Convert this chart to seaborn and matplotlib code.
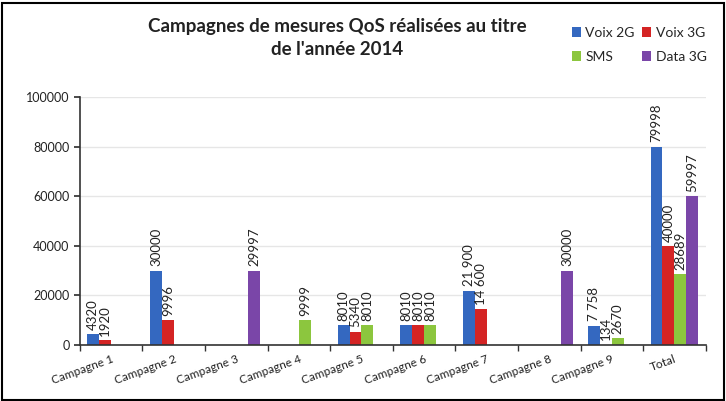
import matplotlib
matplotlib.use("Agg")
import matplotlib.pyplot as plt
import seaborn as sns
import pandas as pd
import numpy as np
from matplotlib.ticker import FixedLocator
from matplotlib.patches import Patch

categories = ["Campagne 1", "Campagne 2", "Campagne 3", "Campagne 4", "Campagne 5",
              "Campagne 6", "Campagne 7", "Campagne 8", "Campagne 9", "Total"]
series = ["Voix 2G", "Voix 3G", "SMS", "Data 3G"]
voix2g = [4320, 30000, 0, 0, 8010, 8010, 21900, 0, 7758, 79998]
voix3g = [1920, 9996, 0, 0, 5340, 8010, 14600, 0, 134, 40000]
sms = [0, 0, 0, 9999, 8010, 8010, 0, 0, 2670, 28689]
data3g = [0, 0, 29997, 0, 0, 0, 0, 30000, 0, 59997]
labels_voix2g = ["4320", "30000", "", "", "8010", "8010", "21 900", "", "7 758", "79998"]
labels_voix3g = ["1920", "9996", "", "", "5340", "8010", "14 600", "", "134", "40000"]
labels_sms = ["", "", "", "9999", "8010", "8010", "", "", "2670", "28689"]
labels_data3g = ["", "", "29997", "", "", "", "", "30000", "", "59997"]
yticks = [0, 20000, 40000, 60000, 80000, 100000]
title = "Campagnes de mesures QoS réalisées au titre\nde l'année 2014"

colors = ["#3468c0", "#d42424", "#8cc63e", "#7a46a8"]

rows = []
for s, vals in zip(series, [voix2g, voix3g, sms, data3g]):
    for c, v in zip(categories, vals):
        rows.append({"campagne": c, "serie": s, "valeur": v})
df = pd.DataFrame(rows)

sns.set_theme(style="white")
plt.rcParams["font.family"] = ["Lato", "DejaVu Sans"]

fig = plt.figure(figsize=(7.26, 4.01), dpi=100)
fig.patch.set_facecolor("white")
ax = fig.add_axes([0.110, 0.140, 0.862, 0.618])

sns.barplot(data=df, x="campagne", y="valeur", hue="serie", order=categories,
            hue_order=series, palette=colors, width=0.76, ax=ax, legend=False,
            saturation=1, edgecolor="none")

for cont, labs in zip(ax.containers, [labels_voix2g, labels_voix3g, labels_sms, labels_data3g]):
    ax.bar_label(cont, labels=labs, rotation=90, padding=3, fontsize=9.5, color="#222222")

ax.set_ylim(0, 100000)
ax.set_yticks(yticks)
ax.set_yticklabels([str(t) for t in yticks], fontsize=9, color="#222222")
ax.yaxis.grid(True, color="#e6e6e6", linewidth=1)
ax.set_axisbelow(True)
ax.set_xlim(-0.5, len(categories) - 0.5)
ax.set_xlabel("")
ax.set_ylabel("")
ax.set_xticks(range(len(categories)))
ax.set_xticklabels(categories, rotation=20, ha="right", rotation_mode="anchor",
                   fontsize=8.5, color="#222222")
ax.tick_params(axis="x", which="major", length=0, pad=6)
ax.xaxis.set_minor_locator(FixedLocator(np.arange(-0.5, len(categories), 1.0)))
ax.tick_params(axis="x", which="minor", length=4, color="#333333", direction="out", bottom=True)
ax.tick_params(axis="y", length=4, color="#333333", direction="out", left=True)
for sp in ["top", "right"]:
    ax.spines[sp].set_visible(False)
for sp in ["left", "bottom"]:
    ax.spines[sp].set_color("#333333")
    ax.spines[sp].set_linewidth(1.2)

fig.text(0.465, 0.955, title, ha="center", va="top", fontsize=13.5, fontweight="bold",
         color="#222222", linespacing=1.45)

order = [0, 2, 1, 3]
handles = [Patch(facecolor=colors[i], edgecolor="none") for i in order]
leg = fig.legend(handles, [series[i] for i in order], loc="upper left",
                 bbox_to_anchor=(0.77, 0.965), ncol=2,
                 frameon=False, fontsize=10, handlelength=0.7, handleheight=0.7,
                 handletextpad=0.3, columnspacing=0.5, labelspacing=0.9)

border = plt.Rectangle((0.003, 0.003), 0.994, 0.99, transform=fig.transFigure,
                       fill=False, edgecolor="black", linewidth=1.5)
fig.patches.append(border)

fig.savefig("out.png", dpi=100)
